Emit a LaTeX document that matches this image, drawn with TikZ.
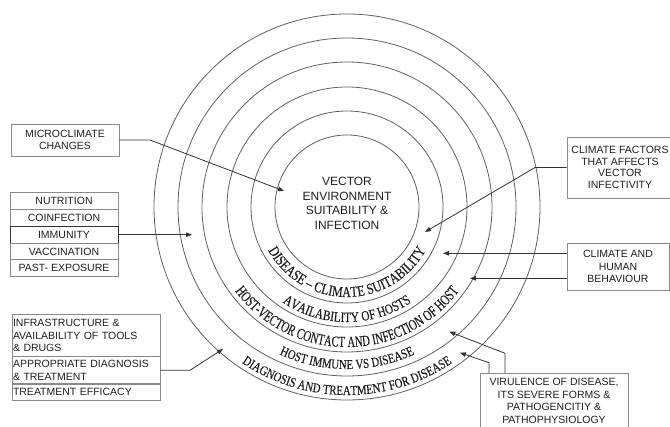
\documentclass[tikz,border=0pt]{standalone}
\usepackage{fontspec}
\setmainfont{Liberation Sans}
\newfontfamily\arcfont[FakeStretch=0.8,FakeBold=0.2]{Liberation Serif}
\newfontfamily\arcfontn[FakeStretch=0.7,FakeBold=0.2]{Liberation Serif}
\usetikzlibrary{arrows.meta,decorations.text,calc}
\definecolor{ringc}{HTML}{606060}
\definecolor{boxc}{HTML}{8A8A8A}
\definecolor{linec}{HTML}{333333}
\definecolor{txt}{HTML}{1E1E1E}
\begin{document}
\begin{tikzpicture}[x=1pt,y=-1pt,
  ring/.style={draw=ringc,line width=0.8pt},
  box/.style={draw=boxc,line width=0.9pt,text=txt,font=\fontsize{10.5}{12.5}\selectfont,inner sep=1pt},
  conn/.style={draw=linec,line width=0.8pt},
  arr/.style={conn,-{Triangle[length=6pt,width=4.5pt]}}
]
\useasboundingbox (0,0) rectangle (670,427);
\coordinate (C) at (347,207);
\foreach \r in {72,96,120,145,169,193} \draw[ring] (C) circle[radius=\r];

% centre text
\node[font=\fontsize{12}{14.5}\selectfont,text=txt,align=center] (core) at (347,203.5) {VECTOR\\ENVIRONMENT\\SUITABILITY \&\\INFECTION};

% ring texts
\path[decorate,decoration={text along path,text align=center,text color=txt,
  text={|\arcfont\fontsize{15}{15}\selectfont|DISEASE – CLIMATE SUITABILITY}}]
  ($(C)+(175:90)$) arc[start angle=175,end angle=5,radius=90];
\path[decorate,decoration={text along path,text align=center,text color=txt,
  text={|\arcfont\fontsize{14.2}{14.2}\selectfont|AVAILABILITY OF HOSTS}}]
  ($(C)+(175:115)$) arc[start angle=175,end angle=5,radius=115];
\path[decorate,decoration={text along path,text align=center,text color=txt,
  text={|\arcfontn\fontsize{15.3}{15.3}\selectfont|HOST-VECTOR CONTACT AND INFECTION OF HOST}}]
  ($(C)+(175:140)$) arc[start angle=175,end angle=5,radius=140];
\path[decorate,decoration={text along path,text align=center,text color=txt,
  text={|\arcfont\fontsize{13.5}{13.5}\selectfont|HOST IMMUNE VS DISEASE}}]
  ($(C)+(175:162)$) arc[start angle=175,end angle=5,radius=162];
\path[decorate,decoration={text along path,text align=center,text color=txt,
  text={|\arcfont\fontsize{13.5}{13.5}\selectfont|DIAGNOSIS AND TREATMENT FOR DISEASE}}]
  ($(C)+(175:188)$) arc[start angle=175,end angle=5,radius=188];

% microclimate
\node[box,minimum width=108pt,minimum height=32pt,align=center] (micro) at (65,140) {MICROCLIMATE\\CHANGES};
\coordinate (mbend) at (150,140);
\coordinate (mtip) at (284,191);
\draw[arr] (micro.east) -- (mbend) -- (mtip);

% left stack
\begin{scope}[every node/.style={box,minimum width=108pt,minimum height=16.8pt}]
\node (nut) at (64,201.1) {NUTRITION};
\node (coi) at (64,217.9) {COINFECTION};
\node[draw=linec] (imm) at (64,234.7) {IMMUNITY};
\node (vac) at (64,251.5) {VACCINATION};
\node (pas) at (64,268.3) {PAST- EXPOSURE};
\end{scope}
\coordinate (itip) at (192,234.7);
\draw[arr] (imm.east) -- (itip);

% bottom-left stack
\begin{scope}[every node/.style={box,text width=146pt,align=left}]
\node[minimum height=41.7pt] (inf) at (86,335.8) {INFRASTRUCTURE \&\\AVAILABILITY OF TOOLS\\\& DRUGS};
\node[minimum height=27.3pt] (app) at (86,370.3) {APPROPRIATE DIAGNOSIS\\\& TREATMENT};
\node[minimum height=16pt] (eff) at (86,392) {TREATMENT EFFICACY};
\end{scope}
\coordinate (abend) at (190,370.3);
\coordinate (atip) at (223,349);
\draw[arr] (app.east) -- (abend) -- (atip);

% climate factors
\node[box,minimum width=106pt,minimum height=61pt,align=center,font=\fontsize{10.5}{11.7}\selectfont] (cf) at (620,167.5) {CLIMATE FACTORS\\THAT AFFECTS\\VECTOR\\INFECTIVITY};
\coordinate (cbend) at (535,167.5);
\coordinate (ctip) at (425,232);
\draw[arr] (cf.west) -- (cbend) -- (ctip);

% climate and human behaviour
\node[box,minimum width=102pt,minimum height=47pt,align=center] (hum) at (618,266.5) {CLIMATE AND\\HUMAN\\BEHAVIOUR};
\coordinate (htipA) at (443,253.3);
\coordinate (htipB) at (470,278.3);
\draw[arr] (htipA -| hum.west) -- (htipA);
\draw[arr] (htipB -| hum.west) -- (htipB);

% virulence
\node[box,anchor=north,minimum width=148pt,inner ysep=4.5pt,align=center,font=\fontsize{10.5}{12.7}\selectfont] (vir) at (554,373.3) {VIRULENCE OF DISEASE,\\ITS SEVERE FORMS \&\\PATHOGENCITIY \&\\PATHOPHYSIOLOGY};
\coordinate (vbendA) at (505,353.3);
\coordinate (vtipA) at (449.3,331.7);
\coordinate (vbendB) at (489,362.7);
\coordinate (vtipB) at (460,352.7);
\draw[arr] (vbendA |- vir.north) -- (vbendA) -- (vtipA);
\draw[arr] (vbendB |- vir.north) -- (vbendB) -- (vtipB);
\end{tikzpicture}
\end{document}
